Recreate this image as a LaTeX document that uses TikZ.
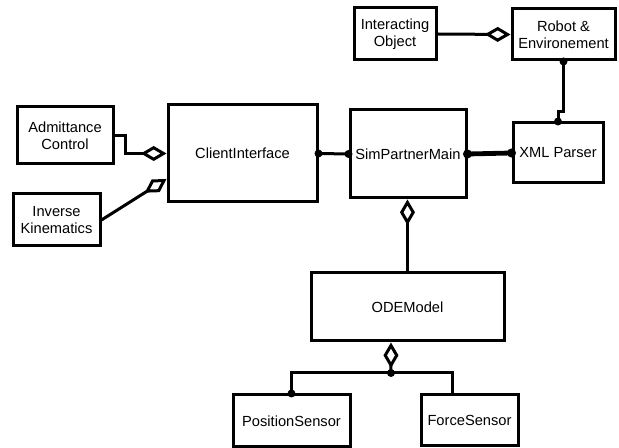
\documentclass[tikz,border=0pt]{standalone}
\usepackage{fontspec}
\setmainfont{Liberation Sans}
\usetikzlibrary{arrows.meta}
\begin{document}
\begin{tikzpicture}[x=0.75pt,y=-0.75pt,
  box/.style={draw,line width=2.25pt,inner sep=0pt,align=center,
    font=\fontsize{11}{12.6}\selectfont},
  conn/.style={line width=2.25pt},
  agg/.style={{Diamond[open,length=17pt 1,width=9pt 1]}-},
  dot/.style={fill=black},
]
\useasboundingbox (0,0) rectangle (619,448);
\node[box,minimum width=61.5pt,minimum height=39pt] (io) at (395,34) {Interacting\\Object};
\node[box,minimum width=77.25pt,minimum height=38.25pt] (rob) at (563.5,34.5) {Robot \&\\Environement};
\node[box,minimum width=67.5pt,minimum height=45pt] (xml) at (558,153) {XML Parser};
\node[box,minimum width=87pt,minimum height=66pt] (spm) at (408,154) {SimPartnerMain};
\node[box,minimum width=111.75pt,minimum height=72.75pt] (ci) at (242.5,153.5) {ClientInterface};
\node[box,minimum width=72pt,minimum height=42.75pt] (ac) at (65,135.5) {Admittance\\Control};
\node[box,minimum width=65.25pt,minimum height=39pt] (ik) at (56.5,220) {Inverse\\Kinematics};
\node[box,minimum width=144.75pt,minimum height=51pt] (ode) at (407.5,307) {ODEModel};
\node[box,minimum width=87.75pt,minimum height=39pt] (ps) at (291.5,421) {PositionSensor};
\node[box,minimum width=72.75pt,minimum height=38.25pt] (fs) at (469.5,420.5) {ForceSensor};
\coordinate (j) at (391,373);
\coordinate (ikend) at ([yshift=-19.1pt]ci.west);
% connectors
\draw[conn,agg] (rob.west) -- (io.east);
\draw[conn] (rob.south) -- ++(0,50) -| (xml.north);
\fill[dot] (rob.south) circle (3pt);
\fill[dot] (xml.north) circle (3pt);
\draw[conn] (ci.east) -- (spm.west);
\fill[dot] (ci.east) circle (3pt);
\fill[dot] (spm.west) circle (3pt);
\draw[line width=3.6pt] (spm.east) -- (xml.west);
\fill[dot] (spm.east) circle (3.4pt);
\fill[dot] (xml.west) circle (3.4pt);
\draw[conn,agg] (ci.west) -| ++(-41,-18) |- (ac.east);
\draw[conn,agg] (ikend) -- (ik.east);
\draw[conn,agg] ([xshift=-0.4pt]spm.south) -- ([xshift=-0.4pt]spm.south |- ode.north);
\draw[conn,agg] ([xshift=-12.4pt]ode.south) -- (j);
\draw[conn] (ps.north) |- (j) -| ([xshift=-12.4pt]fs.north);
\fill[dot] (j) circle (3pt);
\fill[dot] (ps.north) circle (3pt);
\end{tikzpicture}
\end{document}
